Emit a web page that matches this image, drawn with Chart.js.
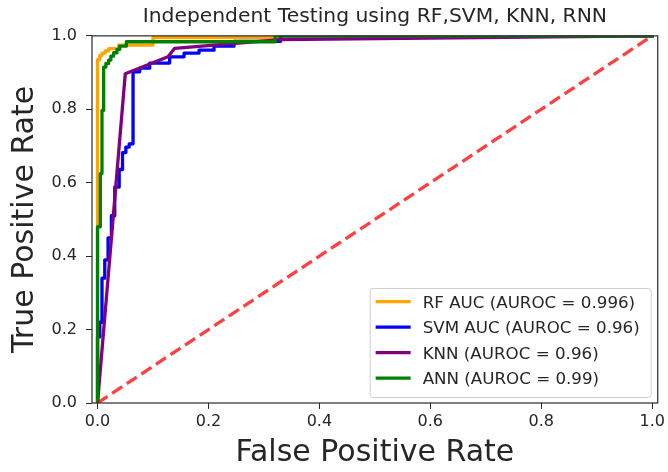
<!DOCTYPE html>
<html lang="en">
<head>
<meta charset="UTF-8">
<title>Independent Testing ROC</title>
<script src="https://cdn.jsdelivr.net/npm/chart.js"></script>
<style>
  html, body { margin: 0; padding: 0; background: #fff; }
</style>
</head>
<body>
<canvas id="rocChart" width="668" height="472"></canvas>
<script>
// ROC curve points for each model: false positive rate / true positive rate
const rfFpr  = [0, 0, 0.004, 0.004, 0.008, 0.008, 0.014, 0.014, 0.02, 0.02, 0.038, 0.038, 0.1, 0.1, 0.33, 0.33, 1];
const rfTpr  = [0, 0.935, 0.935, 0.947, 0.947, 0.953, 0.953, 0.959, 0.959, 0.965, 0.965, 0.975, 0.975, 0.995, 0.995, 1, 1];

const svmFpr = [0, 0, 0.004, 0.004, 0.008, 0.008, 0.013, 0.013, 0.019, 0.019, 0.025, 0.025, 0.031, 0.031, 0.039, 0.039,
                0.045, 0.045, 0.051, 0.051, 0.057, 0.057, 0.064, 0.064, 0.076, 0.076, 0.094, 0.094, 0.13, 0.13,
                0.156, 0.156, 0.183, 0.183, 0.21, 0.21, 0.246, 0.246, 0.33, 0.33, 1];
const svmTpr = [0, 0.18, 0.18, 0.22, 0.22, 0.34, 0.34, 0.39, 0.39, 0.45, 0.45, 0.51, 0.51, 0.588, 0.588, 0.636,
                0.636, 0.682, 0.682, 0.697, 0.697, 0.706, 0.706, 0.902, 0.902, 0.912, 0.912, 0.926, 0.926, 0.943,
                0.943, 0.953, 0.953, 0.961, 0.961, 0.972, 0.972, 0.985, 0.985, 1, 1];

const knnFpr = [0, 0.05, 0.127, 0.139, 0.33, 1];
const knnTpr = [0, 0.897, 0.943, 0.966, 0.99, 1];

const annFpr = [0, 0, 0.005, 0.005, 0.008, 0.008, 0.011, 0.011, 0.015, 0.015, 0.02, 0.02, 0.024, 0.024,
                0.029, 0.029, 0.035, 0.035, 0.04, 0.04, 0.052, 0.052, 0.32, 0.32, 1];
const annTpr = [0, 0.48, 0.48, 0.625, 0.625, 0.797, 0.797, 0.915, 0.915, 0.925, 0.925, 0.934, 0.934, 0.945,
                0.945, 0.954, 0.954, 0.963, 0.963, 0.972, 0.972, 0.984, 0.984, 1, 1];

// chance line
const chanceFpr = [0, 1];
const chanceTpr = [0, 1];

const seriesLabels = [
  "RF AUC (AUROC = 0.996)",
  "SVM AUC (AUROC = 0.96)",
  "KNN (AUROC = 0.96)",
  "ANN (AUROC = 0.99)"
];

const xTicks = [0.0, 0.2, 0.4, 0.6, 0.8, 1.0];
const yTicks = [0.0, 0.2, 0.4, 0.6, 0.8, 1.0];

const FONT = '"DejaVu Sans", Verdana, sans-serif';
const INK = "#262626";
const LW = 3.3;

function toPoints(xs, ys) {
  return xs.map((x, i) => ({ x: x, y: ys[i] }));
}

function curve(label, xs, ys, color, order) {
  return {
    label: label,
    data: toPoints(xs, ys),
    borderColor: color,
    backgroundColor: color,
    borderWidth: LW,
    borderJoinStyle: "round",
    borderCapStyle: "square",
    pointRadius: 0,
    showLine: true,
    tension: 0,
    clip: 0,
    order: order
  };
}

// white page behind the plot
const whiteBg = {
  id: "whiteBg",
  beforeDraw(chart) {
    const ctx = chart.ctx;
    ctx.save();
    ctx.fillStyle = "#ffffff";
    ctx.fillRect(0, 0, chart.width, chart.height);
    ctx.restore();
  }
};

// four spines around the plotting area
const frame = {
  id: "frame",
  afterDatasetsDraw(chart) {
    const { ctx, chartArea: a } = chart;
    ctx.save();
    ctx.strokeStyle = "#2a2a2a";
    ctx.lineWidth = 1.2;
    ctx.strokeRect(a.left, a.top, a.right - a.left, a.bottom - a.top);
    ctx.restore();
  }
};

// legend box in the lower right corner
const legendBox = {
  id: "legendBox",
  afterDatasetsDraw(chart) {
    const { ctx, chartArea: a } = chart;
    const items = chart.data.datasets.filter(d => d.label);
    ctx.save();
    ctx.font = "16.7px " + FONT;
    const textW = Math.max(...items.map(d => ctx.measureText(d.label).width));
    const w = 53 + textW + 11;
    const h = 109;
    const rowH = 25.5;
    const x = a.right - 7 - w;
    const y = a.bottom - 6 - h;

    ctx.fillStyle = "rgba(255,255,255,0.85)";
    ctx.strokeStyle = "#d0d0d0";
    ctx.lineWidth = 1;
    ctx.beginPath();
    ctx.roundRect(x + 0.5, y + 0.5, w, h, 3);
    ctx.fill();
    ctx.stroke();

    items.forEach((d, i) => {
      const cy = y + 13.7 + i * rowH;
      ctx.strokeStyle = d.borderColor;
      ctx.lineWidth = LW;
      ctx.beginPath();
      ctx.moveTo(x + 6, cy);
      ctx.lineTo(x + 41, cy);
      ctx.stroke();
      ctx.fillStyle = INK;
      ctx.textBaseline = "middle";
      ctx.fillText(d.label, x + 53, cy + 1.5);
    });
    ctx.restore();
  }
};

const ctx = document.getElementById("rocChart").getContext("2d");

new Chart(ctx, {
  type: "scatter",
  data: {
    datasets: [
      curve(seriesLabels[0], rfFpr, rfTpr, "#ffa500", 5),
      curve(seriesLabels[1], svmFpr, svmTpr, "#0000ff", 4),
      curve(seriesLabels[2], knnFpr, knnTpr, "#800080", 3),
      curve(seriesLabels[3], annFpr, annTpr, "#008000", 2),
      {
        label: "",
        data: toPoints(chanceFpr, chanceTpr),
        borderColor: "rgba(255, 0, 0, 0.75)",
        borderWidth: LW,
        borderDash: [12, 5.5],
        borderCapStyle: "butt",
        pointRadius: 0,
        showLine: true,
        clip: 0,
        order: 1
      }
    ]
  },
  options: {
    responsive: false,
    animation: false,
    devicePixelRatio: 1,
    layout: { padding: { left: 0, right: 8, top: 0, bottom: 0 } },
    plugins: {
      legend: { display: false },
      tooltip: { enabled: false },
      title: {
        display: true,
        text: "Independent Testing using RF,SVM, KNN, RNN",
        fullSize: false,
        color: INK,
        font: { family: FONT, size: 20.3, weight: "normal" },
        padding: { top: 4.5, bottom: 7 }
      }
    },
    scales: {
      x: {
        type: "linear",
        min: -0.01,
        max: 1.01,
        afterFit(scale) { scale.height = 69; },
        afterBuildTicks(scale) { scale.ticks = xTicks.map(v => ({ value: v })); },
        border: { display: false },
        grid: { drawOnChartArea: false, drawTicks: true, tickLength: 6, color: "#2a2a2a" },
        ticks: {
          color: INK,
          padding: 3,
          maxRotation: 0,
          font: { family: FONT, size: 16 },
          callback: v => v.toFixed(1)
        },
        title: {
          display: true,
          text: "False Positive Rate",
          color: INK,
          font: { family: FONT, size: 30 },
          padding: { top: 0, bottom: 1 }
        }
      },
      y: {
        type: "linear",
        min: 0,
        max: 1.0,
        afterFit(scale) { scale.width = 92; },
        afterBuildTicks(scale) { scale.ticks = yTicks.map(v => ({ value: v })); },
        border: { display: false },
        grid: { drawOnChartArea: false, drawTicks: true, tickLength: 6, color: "#2a2a2a" },
        ticks: {
          color: INK,
          padding: 9,
          font: { family: FONT, size: 16 },
          callback: v => v.toFixed(1)
        },
        title: {
          display: true,
          text: "True Positive Rate",
          color: INK,
          font: { family: FONT, size: 30 },
          padding: { top: 7, bottom: 0 }
        }
      }
    }
  },
  plugins: [whiteBg, frame, legendBox]
});
</script>
</body>
</html>
